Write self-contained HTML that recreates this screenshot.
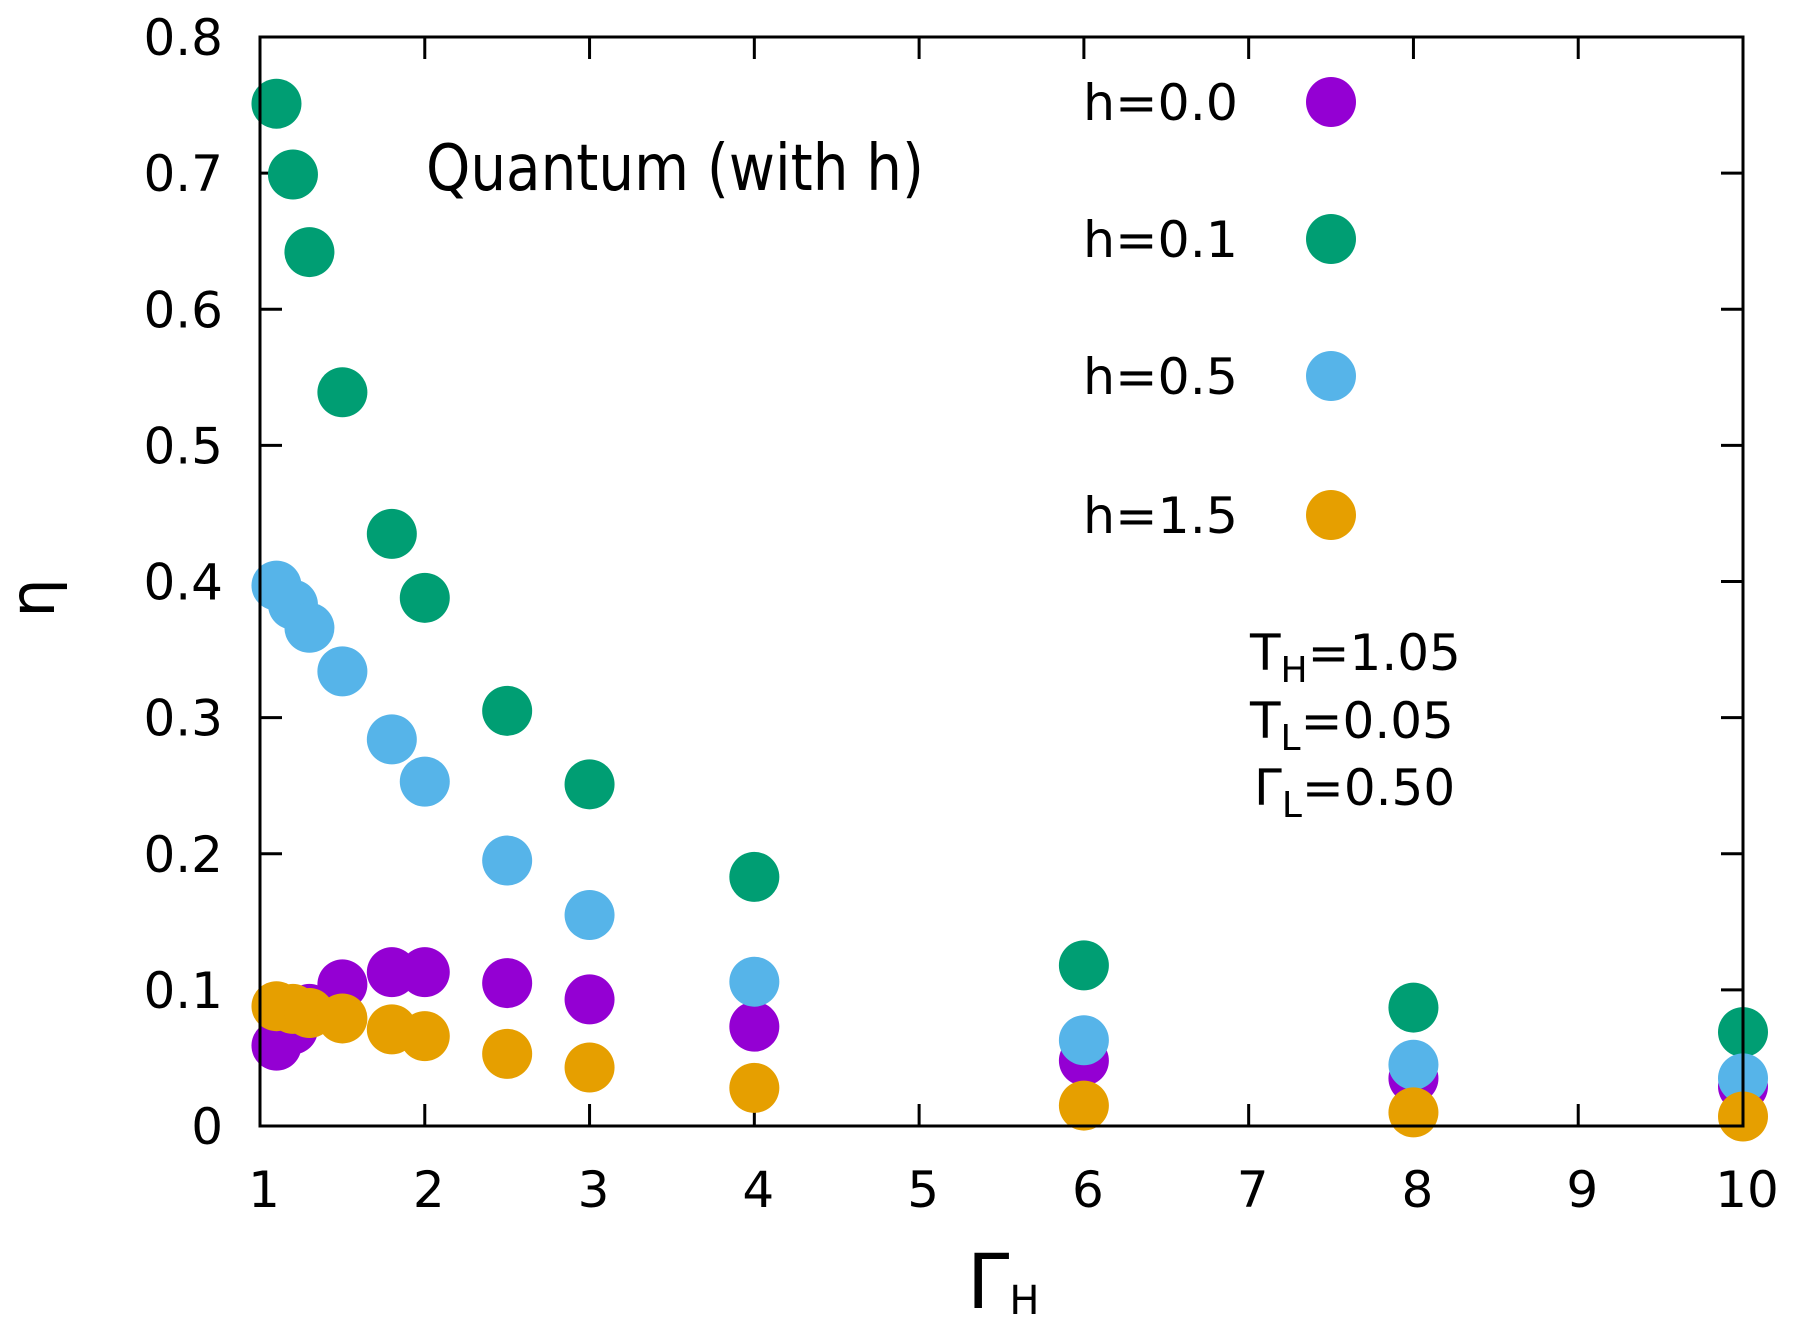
<!DOCTYPE html>
<html><head><meta charset="utf-8"><style>
body{margin:0;background:#fff}
svg{display:block;font-family:"DejaVu Sans","Liberation Sans",sans-serif}
</style></head><body>
<svg id="chart" width="1796" height="1323" viewBox="0 0 1796 1323" xmlns="http://www.w3.org/2000/svg">
<g id="ticks"></g>
<g id="marks"></g>
<rect x="260" y="37" width="1483" height="1089" fill="none" stroke="#000" stroke-width="3"/>
<text x="426" y="190" font-size="64" textLength="498" lengthAdjust="spacingAndGlyphs">Quantum (with h)</text>
<g id="legend"></g>
<g font-size="50">
<text x="1250" y="670">T<tspan font-size="36" dy="12">H</tspan><tspan dy="-12">=1.05</tspan></text>
<text x="1250" y="738">T<tspan font-size="36" dy="12">L</tspan><tspan dy="-12">=0.05</tspan></text>
<text x="1254" y="805">Γ<tspan font-size="36" dy="12">L</tspan><tspan dy="-12">=0.50</tspan></text>
</g>
<text transform="translate(54,598) rotate(-90)" text-anchor="middle" font-size="62">η</text>
<text x="967" y="1308" font-size="76">Γ<tspan font-size="40" dy="6">H</tspan></text>
</svg>
<script>
const xVals = [1.1, 1.2, 1.3, 1.5, 1.8, 2.0, 2.5, 3, 4, 6, 8, 10];
const h00 = [0.059, 0.071, 0.086, 0.104, 0.113, 0.113, 0.105, 0.093, 0.073, 0.048, 0.035, 0.029];
const h01 = [0.751, 0.699, 0.642, 0.539, 0.435, 0.388, 0.305, 0.251, 0.183, 0.118, 0.087, 0.069];
const h05 = [0.397, 0.383, 0.366, 0.334, 0.284, 0.253, 0.195, 0.155, 0.106, 0.063, 0.045, 0.035];
const h15 = [0.088, 0.086, 0.083, 0.079, 0.071, 0.066, 0.053, 0.043, 0.028, 0.015, 0.010, 0.007];
const seriesLabels = ["h=0.0", "h=0.1", "h=0.5", "h=1.5"];
const seriesColors = ["#9400d3", "#009e73", "#56b4e9", "#e69f00"];
const xTicks = [1, 2, 3, 4, 5, 6, 7, 8, 9, 10];
const yTicks = [0, 0.1, 0.2, 0.3, 0.4, 0.5, 0.6, 0.7, 0.8];

const L = 260, R = 1743, T = 37, B = 1126;
const sx = v => L + (v - 1) / 9 * (R - L);
const sy = v => B - v / 0.8 * (B - T);
const NS = "http://www.w3.org/2000/svg";
function mk(tag, attrs, parent) {
  const e = document.createElementNS(NS, tag);
  for (const k in attrs) e.setAttribute(k, attrs[k]);
  parent.appendChild(e);
  return e;
}
const tg = document.getElementById('ticks');
xTicks.forEach(t => {
  const x = sx(t);
  const a = mk('line', {x1: x, x2: x, y1: B, y2: B - 22, stroke: '#000', 'stroke-width': 3}, tg);
  
  
  const b = mk('line', {x1: x, x2: x, y1: T, y2: T + 22, stroke: '#000', 'stroke-width': 3}, tg);
  
  
  const lb = mk('text', {x: x + 4, y: 1207, 'text-anchor': 'middle', 'font-size': 50}, tg);
  lb.textContent = String(t);
  
  
});
yTicks.forEach(t => {
  const y = sy(t);
  const a = mk('line', {x1: L, x2: L + 22, y1: y, y2: y, stroke: '#000', 'stroke-width': 3}, tg);
  
  
  const b = mk('line', {x1: R, x2: R - 22, y1: y, y2: y, stroke: '#000', 'stroke-width': 3}, tg);
  
  
  const lb = mk('text', {x: 223, y: y + 18, 'text-anchor': 'end', 'font-size': 50}, tg);
  lb.textContent = t === 0 ? '0' : t.toFixed(1);
  
  
});
const mg = document.getElementById('marks');
[h00, h01, h05, h15].forEach((s, i) => {
  s.forEach((v, j) => {
    const c = mk('circle', {cx: sx(xVals[j]), cy: sy(v), r: 25, fill: seriesColors[i]}, mg);
    
    
  });
});
const lg = document.getElementById('legend');
const legY = [102, 239, 376, 515];
seriesLabels.forEach((s, i) => {
  const t = mk('text', {x: 1083, y: legY[i] + 18, 'font-size': 50, textLength: 155, lengthAdjust: 'spacingAndGlyphs'}, lg);
  t.textContent = s;
  
  
  const c = mk('circle', {cx: 1331, cy: legY[i], r: 25, fill: seriesColors[i]}, lg);
  
  
});
</script>
</body></html>
